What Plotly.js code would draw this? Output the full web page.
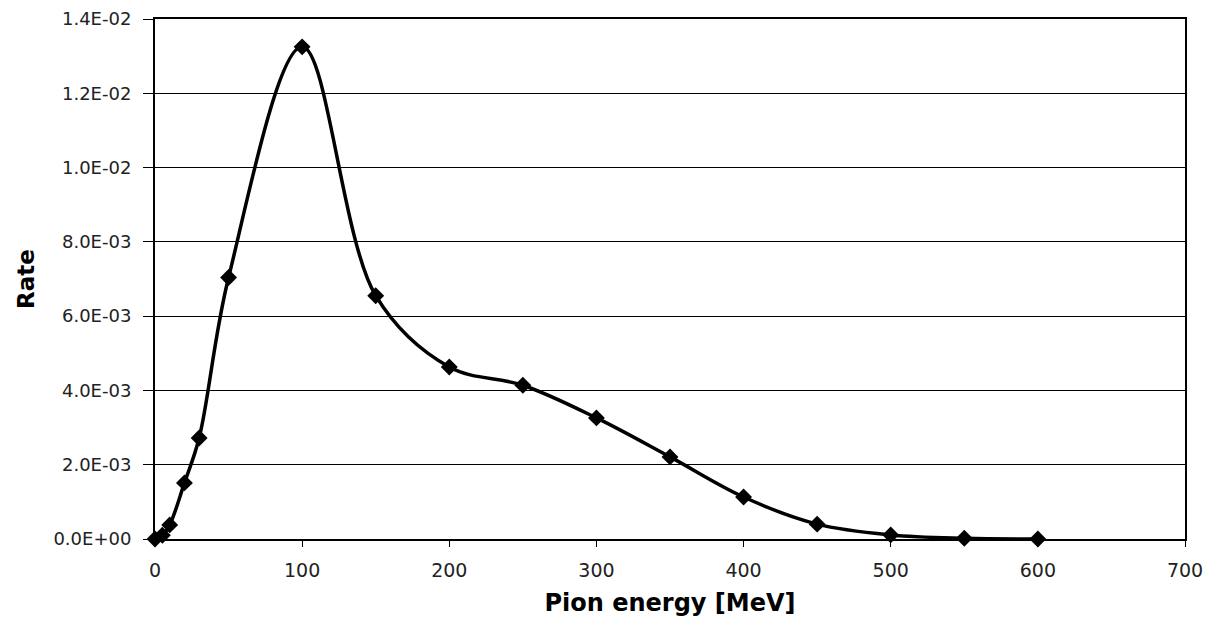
<!DOCTYPE html>
<html>
<head>
<meta charset="utf-8">
<script src="https://cdn.plot.ly/plotly-3.0.1.min.js"></script>
<style>html,body{margin:0;padding:0;background:#fff;}#chart{width:1207px;height:621px;}</style>
</head>
<body>
<div id="chart"></div>
<script>
const energy = [0, 5, 10, 20, 30, 50, 100, 150, 200, 250, 300, 350, 400, 450, 500, 550, 600];
const rate = [0.0, 0.0001, 0.00038, 0.00151, 0.00272, 0.00704, 0.01325, 0.00655, 0.00463, 0.00414, 0.00326, 0.00221, 0.00113, 0.00040, 0.00011, 0.00002, 0.0];
const yTickVals = [0, 0.002, 0.004, 0.006, 0.008, 0.010, 0.012, 0.014];
const yTickText = ["0.0E+00", "2.0E-03", "4.0E-03", "6.0E-03", "8.0E-03", "1.0E-02", "1.2E-02", "1.4E-02"];
const xTickVals = [0, 100, 200, 300, 400, 500, 600, 700];

const trace = {
  x: energy, y: rate, type: 'scatter', mode: 'lines+markers',
  line: {color: '#000', width: 3.5, shape: 'spline', smoothing: 1},
  marker: {symbol: 'diamond', size: 13, color: '#000'},
  cliponaxis: false, hoverinfo: 'none'
};

const layout = {
  width: 1207, height: 621,
  margin: {l: 155, r: 22, t: 19, b: 82},
  paper_bgcolor: '#fff', plot_bgcolor: '#fff',
  showlegend: false,
  font: {family: 'DejaVu Sans, Verdana, sans-serif', color: '#000', size: 19},
  xaxis: {
    range: [0, 700], tickvals: xTickVals, ticks: 'outside', ticklen: 6, tickcolor: '#000', tickwidth: 1,
    ticklabelstandoff: 7,
    showgrid: false, zeroline: false, showline: true, linecolor: '#000', linewidth: 2, mirror: true,
    tickfont: {size: 19, color: '#222'},
    title: {text: '<b>Pion energy [MeV]</b>', font: {size: 24}, standoff: 14}
  },
  yaxis: {
    range: [0, 0.014], tickvals: yTickVals, ticktext: yTickText, ticks: 'outside', ticklen: 10, tickcolor: '#000', tickwidth: 1,
    ticklabelstandoff: 8,
    showgrid: true, gridcolor: '#000', gridwidth: 1, zeroline: false,
    showline: true, linecolor: '#000', linewidth: 2, mirror: true,
    tickfont: {size: 18, color: '#222'},
    title: {text: '<b>Rate</b>', font: {size: 23}, standoff: 12}
  }
};

Plotly.newPlot('chart', [trace], layout, {displayModeBar: false, staticPlot: true});
</script>
</body>
</html>
